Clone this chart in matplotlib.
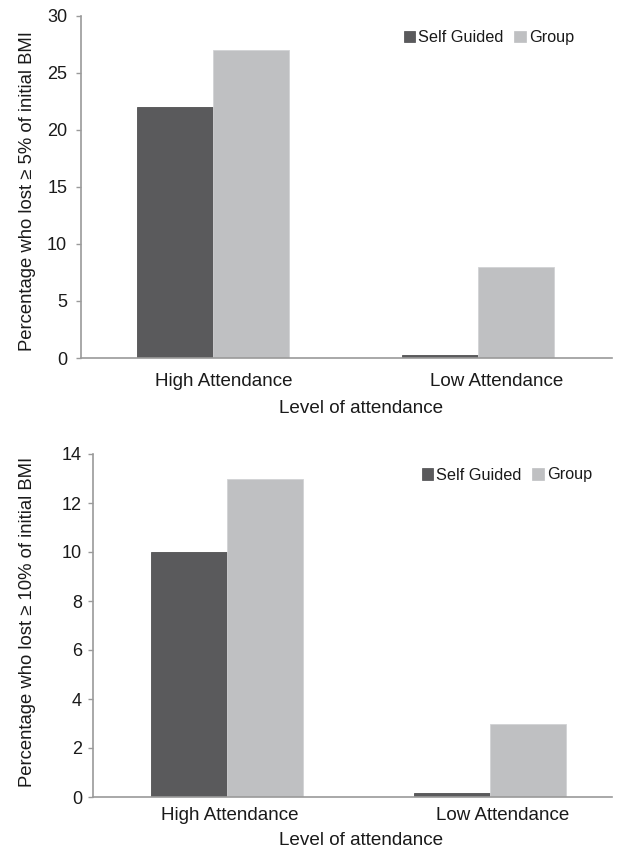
import matplotlib
matplotlib.use("Agg")
import matplotlib.pyplot as plt
import matplotlib.transforms as mtransforms
from matplotlib.patches import Patch
import numpy as np

categories = ["High Attendance", "Low Attendance"]
series_names = ["Self Guided", "Group"]
top_self = [22, 0.3]
top_group = [27, 8]
bot_self = [10, 0.15]
bot_group = [13, 3]
top_yticks = [0, 5, 10, 15, 20, 25, 30]
bot_yticks = [0, 2, 4, 6, 8, 10, 12, 14]
ylabel_top = "Percentage who lost \u2265 5% of initial BMI"
ylabel_bot = "Percentage who lost \u2265 10% of initial BMI"
xlabel = "Level of attendance"

dark = "#5a5a5c"
light = "#bfc0c2"
axis_col = "#9a9a9a"
text_col = "#1a1a1a"

plt.rcParams['font.family'] = ['Liberation Sans', 'DejaVu Sans']
plt.rcParams['text.color'] = text_col

W, H = 619, 851
fig = plt.figure(figsize=(W / 100, H / 100), dpi=100)


def panel(px, s_vals, g_vals, yticks, ylabel, xlim, bw, tick_off, xl_x, xl_y,
          tick_pad, ylab_xy, ytick_pad, leg_xy):
    left, right, top, bottom = px
    ax = fig.add_axes([left / W, 1 - bottom / H, (right - left) / W, (bottom - top) / H])
    x = np.arange(len(categories))
    ax.bar(x - bw / 2, s_vals, bw, color=dark, edgecolor="#505052", linewidth=0.6)
    ax.bar(x + bw / 2, g_vals, bw, color=light, edgecolor="#d2d3d5", linewidth=0.6)
    ax.set_xlim(*xlim)
    ax.set_ylim(yticks[0], yticks[-1])
    ax.set_yticks(yticks)
    ax.set_xticks(x + np.array(tick_off))
    ax.set_xticklabels(categories, fontsize=13.5, color=text_col)
    ax.tick_params(axis='x', length=0, pad=tick_pad)
    ax.tick_params(axis='y', length=3.6, width=1.0, color=axis_col, labelsize=13,
                   labelcolor=text_col, pad=ytick_pad)
    for s in ["top", "right"]:
        ax.spines[s].set_visible(False)
    for s in ["left", "bottom"]:
        ax.spines[s].set_color(axis_col)
        ax.spines[s].set_linewidth(1.2)
    ax.set_ylabel(ylabel, fontsize=13.3, color=text_col)
    ax.yaxis.set_label_coords(*ylab_xy)
    ax.set_xlabel(xlabel, fontsize=13.6, color=text_col)
    tr = mtransforms.blended_transform_factory(ax.transData, ax.transAxes)
    ax.xaxis.set_label_coords(xl_x, xl_y, transform=tr)
    handles = [Patch(facecolor=dark, edgecolor="#4a4a4c", linewidth=0.5),
               Patch(facecolor=light, edgecolor=light, linewidth=0.5)]
    ax.legend(handles, series_names, loc="center right",
              bbox_to_anchor=(leg_xy[0] / W, 1 - leg_xy[1] / H),
              bbox_transform=fig.transFigure, borderpad=0, borderaxespad=0,
              ncol=2, frameon=False, fontsize=11.7, handlelength=0.72,
              handleheight=0.72, handletextpad=0.2, columnspacing=0.62)
    return ax


# top panel: axes pixels (left, right, top, bottom)
panel((80.5, 612, 15.5, 358), top_self, top_group, top_yticks, ylabel_top,
      (-0.50, 1.506), 0.287, [0.04, 0.072], 0.558, -0.122, 10.8,
      (-0.0837, 0.486), 6.0, (574, 37.5))

# bottom panel
panel((93, 612, 454, 797), bot_self, bot_group, bot_yticks, ylabel_bot,
      (-0.51, 1.464), 0.29, [0.01, 0.048], 0.508, -0.102, 7.2,
      (-0.110, 0.51), 4.3, (592, 475))

fig.savefig("out.png", dpi=100)
